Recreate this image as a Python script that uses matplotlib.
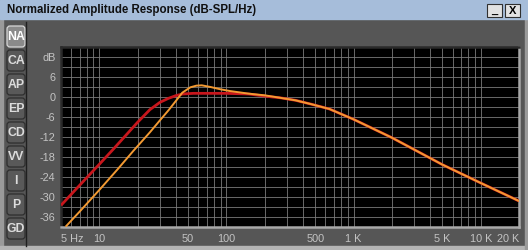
import matplotlib
matplotlib.use("Agg")
import matplotlib.pyplot as plt
from matplotlib.patches import Rectangle, FancyBboxPatch

plt.rcParams["font.family"] = ["Liberation Sans", "DejaVu Sans"]

# ------------------------------------------------------------
# data
# ------------------------------------------------------------
title = "Normalized Amplitude Response (dB-SPL/Hz)"
tabs = ["NA", "CA", "AP", "EP", "CD", "VV", "I", "P", "GD"]

red_hz = [5, 7, 10, 13, 16, 20, 25, 30, 35, 40, 45, 55, 70, 100, 150, 180,
          230, 261, 350, 470, 646, 1000, 2000, 5000, 10000, 20000]
red_db = [-32.5, -26.5, -20.2, -15.5, -11.7, -7.6, -3.8, -1.6, -0.4, 0.4,
          0.9, 1.1, 1.1, 1.1, 0.9, 0.5, 0.0, -0.2, -1.0, -2.2, -3.6, -6.7,
          -12.2, -20.3, -25.8, -31.2]

orange_hz = [5.5, 7, 10, 14, 18.5, 25, 30, 35, 40, 45, 52, 58, 64, 75, 90,
             106, 150, 200, 261, 350, 470, 646, 1000, 2000, 5000, 10000, 20000]
orange_db = [-38.7, -34.4, -27.9, -21.6, -16.2, -10.6, -7.0, -4.0, -1.2, 1.3,
             2.9, 3.4, 3.5, 3.0, 2.3, 1.8, 1.0, 0.5, -0.2, -1.0, -2.2, -3.6,
             -6.7, -12.2, -20.3, -25.8, -31.2]

x_ticks = [5, 10, 50, 100, 500, 1000, 5000, 10000, 20000]
x_labels = ["5 Hz", "10", "50", "100", "500", "1 K", "5 K", "10 K", "20 K"]
y_ticks = [12, 6, 0, -6, -12, -18, -24, -30, -36]
y_labels = ["dB", "6", "0", "-6", "-12", "-18", "-24", "-30", "-36"]

# ------------------------------------------------------------
# window
# ------------------------------------------------------------
W, H = 528, 250
fig = plt.figure(figsize=(W / 100, H / 100), dpi=100)
fig.patch.set_facecolor("#565656")

ui = fig.add_axes([0, 0, 1, 1])
ui.set_xlim(0, W)
ui.set_ylim(H, 0)
ui.axis("off")

# borders
ui.add_patch(Rectangle((0, 0), 3, H, color="#9a9a9a"))
ui.add_patch(Rectangle((0, 246), W, 4, color="#b4b4b4"))
ui.add_patch(Rectangle((525, 0), 3, H, color="#9a9a9a"))

# title bar
ui.add_patch(Rectangle((0, 0), W, 19, color="#a6bdda"))
ui.text(7, 10, title, fontsize=8.3, fontweight="bold", color="#101010",
        va="center", ha="left")
for bx, sym in [(487, "_"), (505, "X")]:
    ui.add_patch(Rectangle((bx, 4), 15, 13, facecolor="#e2e2e2",
                           edgecolor="#303030", linewidth=0.8))
    ui.text(bx + 7.5, 10.5, sym, fontsize=8, fontweight="bold",
            color="#000000", ha="center", va="center")

# tabs
ui.plot([26, 26], [22, 246], color="#202020", lw=1)
for i, t in enumerate(tabs):
    y0 = 26 + i * 24
    active = i == 0
    ui.add_patch(FancyBboxPatch((7, y0), 18, 21,
                                boxstyle="round,pad=0,rounding_size=3",
                                facecolor="#8a8a8a" if active else "#595959",
                                edgecolor="#d8d8d8" if active else "#2e2e2e",
                                linewidth=0.9))
    ui.text(16, y0 + 11.5, t, fontsize=8.8, fontweight="bold",
            color="#ffffff" if active else "#dcdcdc",
            ha="center", va="center")

# ------------------------------------------------------------
# plot area
# ------------------------------------------------------------
left, right, top, bottom = 61, 519, 47, 227
ax = fig.add_axes([left / W, 1 - bottom / H, (right - left) / W, (bottom - top) / H])
ax.set_facecolor("#000000")
ax.set_xscale("log")
ax.set_xlim(5, 20000)
ax.set_ylim(-39, 15)

grid_x = [m * 10 ** e for e in range(0, 5) for m in range(1, 10)]
grid_x = [g for g in grid_x if 5 < g <= 20000]
for g in grid_x:
    ax.axvline(g, color="#7a7a7a", lw=0.6, zorder=1)
for g in range(-36, 15, 3):
    ax.axhline(g, color="#7a7a7a", lw=0.6, zorder=1)

ax.plot(red_hz, red_db, color="#c8161c", lw=2.0, zorder=3, solid_capstyle="butt")
ax.plot(orange_hz, orange_db, color="#f39a32", lw=1.4, zorder=4)

ax.set_xticks(x_ticks)
ax.set_xticklabels(x_labels)
ax.xaxis.set_minor_locator(matplotlib.ticker.NullLocator())
ax.set_yticks(y_ticks)
ax.set_yticklabels(y_labels)
ax.tick_params(length=0, colors="#c4c4c4", labelsize=7.8)
ax.tick_params(axis="x", pad=5)
ax.tick_params(axis="y", pad=4)
lbls = ax.get_xticklabels()
lbls[0].set_horizontalalignment("left")
lbls[-1].set_horizontalalignment("right")

for side, col in [("left", "#2a2a2a"), ("top", "#2a2a2a"),
                  ("right", "#a8a8a8"), ("bottom", "#a8a8a8")]:
    ax.spines[side].set_color(col)
    ax.spines[side].set_linewidth(1.8)

fig.savefig("out.png", dpi=100, facecolor=fig.get_facecolor())
